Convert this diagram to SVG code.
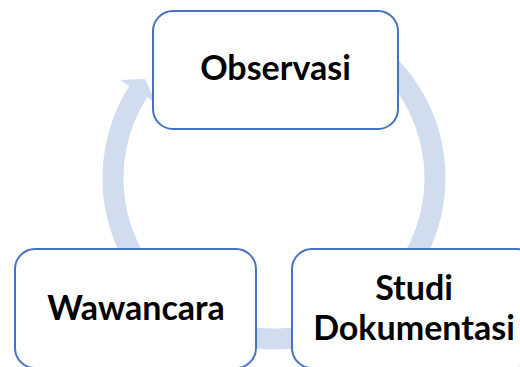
<svg xmlns="http://www.w3.org/2000/svg" width="520" height="367" viewBox="0 0 520 367">
<style>
.ring{fill:none;stroke:#D1DCEF;stroke-width:21}
.head{fill:#D1DCEF}
.box{fill:#FFFFFF;stroke:#4472C4;stroke-width:2}
.lbl{font-family:Lato,"Open Sans","Liberation Sans",sans-serif;font-weight:700;font-size:34px;fill:#000000;text-anchor:middle}
</style>
<g id="connectors">
<path class="ring" d="M354.5 38.6 A161 161 0 1 1 138.2 91.5"/>
<polygon class="head" points="120,80 145,79 156,103"/>
</g>
<g id="observasi">
<rect class="box" x="153" y="11" width="245" height="118" rx="20" ry="20"/>
<text class="lbl" x="275.5" y="80">Observasi</text>
</g>
<g id="wawancara">
<rect class="box" x="15" y="249" width="241" height="119" rx="20" ry="20"/>
<text class="lbl" x="136" y="320">Wawancara</text>
</g>
<g id="studi-dokumentasi">
<rect class="box" x="292" y="249" width="245" height="119" rx="20" ry="20"/>
<text class="lbl" x="414" y="300">Studi</text>
<text class="lbl" x="414" y="340">Dokumentasi</text>
</g>
</svg>
